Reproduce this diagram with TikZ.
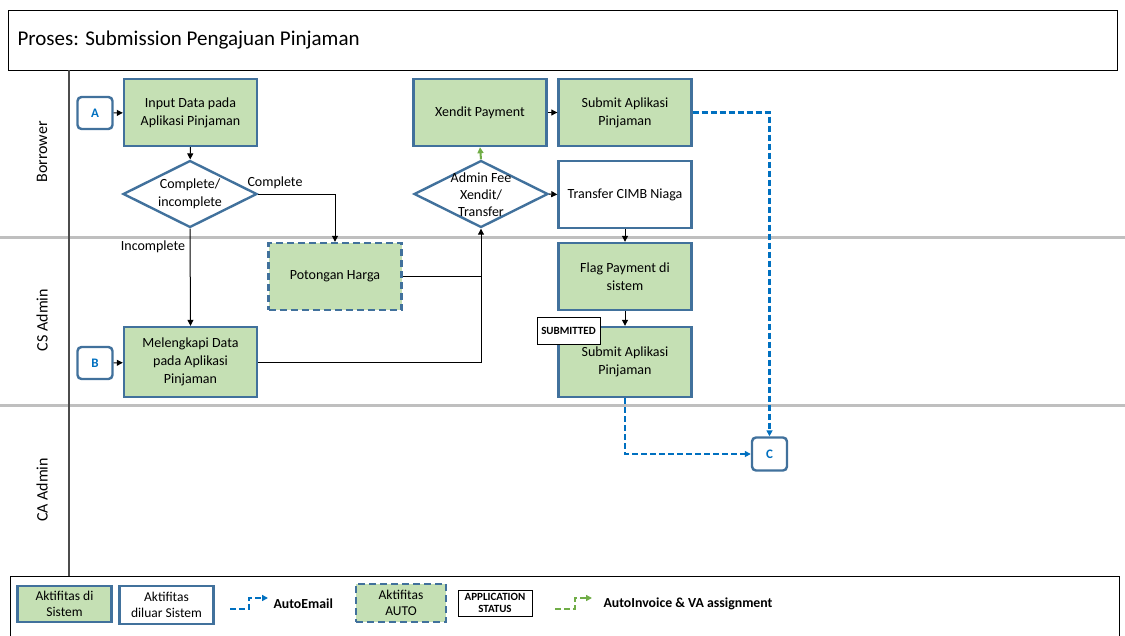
\documentclass[tikz,border=0pt]{standalone}
\usepackage{fontspec}
\setmainfont{Carlito}
\usetikzlibrary{shapes.geometric,arrows.meta}
\definecolor{gfill}{HTML}{C5E0B4}
\definecolor{bord}{HTML}{41719C}
\definecolor{eblue}{HTML}{0070C0}
\definecolor{lanegray}{HTML}{BFBFBF}
\definecolor{agreen}{HTML}{70AD47}
\tikzset{
  boxtxt/.style={font=\fontsize{14}{18}\selectfont},
  act/.style={draw=bord, line width=2.4pt, fill=gfill, minimum width=133pt, minimum height=67pt, align=center, inner sep=2pt, boxtxt},
  extact/.style={act, fill=white},
  autoact/.style={act, dash pattern=on 7pt off 4pt},
  dec/.style={diamond, draw=bord, line width=2.4pt, fill=white, minimum width=134pt, minimum height=67pt, inner sep=0pt},
  conn/.style={draw=black, line width=1pt, -{Triangle[length=6pt,width=6pt]}},
  plain/.style={draw=black, line width=1pt},
  mailconn/.style={draw=eblue, line width=2.2pt, dash pattern=on 6pt off 3pt, -{Triangle[length=6pt,width=6pt]}},
  invconn/.style={draw=agreen, line width=2pt, -{Triangle[length=6pt,width=6pt]}},
  invdash/.style={draw=agreen, line width=2.2pt, dash pattern=on 6pt off 3pt, -{Triangle[length=6pt,width=6pt]}},
  conbox/.style={draw=bord, line width=2.4pt, rounded corners=4pt, fill=white, minimum width=35pt, minimum height=32pt, font=\bfseries\fontsize{13}{15}\selectfont, text=eblue},
  lanelbl/.style={rotate=90, font=\fontsize{16}{19}\selectfont},
  lbl/.style={boxtxt},
  statusbox/.style={draw=black, line width=1pt, fill=white, align=center, font=\bfseries\fontsize{11}{12}\selectfont, inner sep=1pt},
  legtxt/.style={font=\fontsize{13.5}{16}\selectfont, align=center},
}
\begin{document}
\begin{tikzpicture}[x=1pt,y=-1pt]
\useasboundingbox (0,0) rectangle (1125,635);
% title
\node[draw=black, line width=1.3pt, minimum width=1109pt, minimum height=60pt, anchor=north west, inner sep=0pt] (title) at (8,10) {};
\node[anchor=west, font=\fontsize{21}{24}\selectfont] (ttext) at (14,40) {Proses: Submission Pengajuan Pinjaman};
% lanes
\draw[lanegray, line width=3pt] (0,237) -- (1125,237);
\draw[lanegray, line width=3pt] (0,405) -- (1125,405);
\draw[black!70, line width=1.4pt] (69,70) -- (69,576);
\node[lanelbl] (l1) at (42,152) {Borrower};
\node[lanelbl] (l2) at (42,320) {CS Admin};
\node[lanelbl] (l3) at (42,490) {CA Admin};
% nodes
\node[conbox] (A) at (95,113) {A};
\node[act] (in1) at (190.5,112.5) {Input Data pada\\Aplikasi Pinjaman};
\node[dec] (d1) at (190,194) {};
\node[lbl, align=center] (d1t) at (190,194) {Complete/\\incomplete};
\node[autoact] (pot) at (335,276.5) {Potongan Harga};
\node[act, minimum height=70pt] (mel) at (190.5,362) {Melengkapi Data\\pada Aplikasi\\Pinjaman};
\node[conbox] (B) at (95,363) {B};
\node[dec] (d2) at (481,194) {};
\node[lbl, align=center, font=\fontsize{14}{17}\selectfont] (d2t) at (481,195) {Admin Fee\\Xendit/\\Transfer};
\node[act] (xen) at (480,112.5) {Xendit Payment};
\node[act] (sub1) at (625,112.5) {Submit Aplikasi\\Pinjaman};
\node[extact] (tr) at (625,194.5) {Transfer CIMB Niaga};
\node[act] (flag) at (625,276.5) {Flag Payment di\\sistem};
\node[act, minimum height=70pt] (sub2) at (625,362) {Submit Aplikasi\\Pinjaman};
\node[statusbox, minimum width=63pt, minimum height=27pt] (st) at (568.5,331) {SUBMITTED};
\node[conbox, minimum height=33pt] (C) at (769.5,454) {C};
% labels
\node[lbl] (lc) at (275,183) {Complete};
\node[lbl] (li) at (153,247) {Incomplete};
% connectors
\draw[conn] (A) -- (in1);
\draw[conn] (in1) -- (d1);
\draw[conn] (d1.east) -| (pot.north);
\draw[conn] (d1.south) -- (mel.north);
\draw[conn] (B) -- (mel);
\draw[conn] (mel.east) -| (d2.south);
\draw[plain] (pot.east) -- (pot.east -| d2.south);
\draw[invconn] (d2.north) -- (xen.south);
\draw[conn] (xen) -- (sub1);
\draw[conn] (d2.east) -- (tr.west);
\draw[conn] (tr) -- (flag);
\draw[conn] (flag.south) -- (sub2.north);
\draw[mailconn] (sub1.east) -| (C.north);
\draw[mailconn] (sub2.south) |- (C.west);
% legend
\node[draw=black, line width=1.3pt, minimum width=1109pt, minimum height=60pt, anchor=north west, inner sep=0pt] (leg) at (10,576) {};
\node[act, minimum width=94pt, minimum height=36pt, legtxt, inner sep=1pt] (lg1) at (64.5,604) {Aktifitas di\\Sistem};
\node[extact, minimum width=94pt, minimum height=38pt, legtxt, inner sep=1pt] (lg2) at (166.5,605) {Aktifitas\\diluar Sistem};
\coordinate (m0) at (230,609);
\coordinate (m1) at (268,598);
\draw[mailconn] (m0) -- (249,609) |- (m1);
\node[anchor=west, font=\bfseries\fontsize{13.8}{16}\selectfont] (lgm) at (270,604) {AutoEmail};
\node[autoact, minimum width=90pt, minimum height=38pt, legtxt, inner sep=1pt] (lg3) at (401,603) {Aktifitas\\AUTO};
\node[statusbox, minimum width=74pt, minimum height=26pt, font=\bfseries\fontsize{11}{12}\selectfont] (lg4) at (495,603) {APPLICATION\\STATUS};
\coordinate (g0) at (555,609);
\coordinate (g1) at (592,598);
\draw[invdash] (g0) -- (575,609) |- (g1);
\node[anchor=west, font=\bfseries\fontsize{13.8}{16}\selectfont] (lgi) at (600,604) {AutoInvoice \& VA assignment};
\end{tikzpicture}
\end{document}
